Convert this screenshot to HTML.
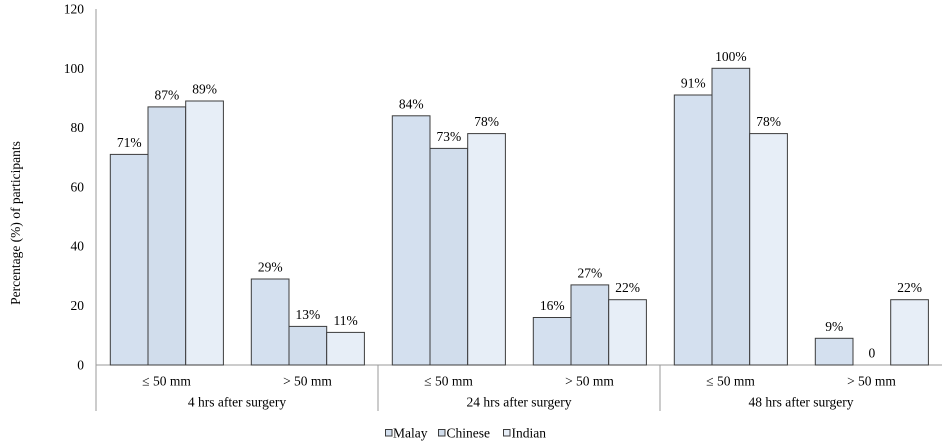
<!DOCTYPE html>
<html><head><meta charset="utf-8"><style>
html,body{margin:0;padding:0;background:#fff;}
svg{display:block;font-family:"Liberation Serif","Times New Roman",Tinos,"DejaVu Serif",serif;}
svg text{font-family:"Liberation Serif","Times New Roman",Tinos,"DejaVu Serif",serif;font-size:13.5px;fill:#000;}
.m{fill:#d4e0ef;stroke:#3c3c3c;stroke-width:1;}
.c{fill:#d1ddec;stroke:#3c3c3c;stroke-width:1;}
.i{fill:#e7eef7;stroke:#3c3c3c;stroke-width:1;}
</style></head><body>
<svg width="942" height="441" viewBox="0 0 942 441" xmlns="http://www.w3.org/2000/svg" font-family="Liberation Serif, Times New Roman, serif" font-size="13.5">
<!-- axes -->
<line x1="96" y1="9" x2="96" y2="411" stroke="#9a9a9a" stroke-width="1"/>
<line x1="96" y1="365" x2="942" y2="365" stroke="#9a9a9a" stroke-width="1"/>
<line x1="378" y1="365" x2="378" y2="411" stroke="#9a9a9a" stroke-width="1"/>
<line x1="660" y1="365" x2="660" y2="411" stroke="#9a9a9a" stroke-width="1"/>

<g font-family="Liberation Serif, Times New Roman, serif">
<!-- y ticks -->
<g text-anchor="end">
<text x="84" y="369.5">0</text>
<text x="84" y="310">20</text>
<text x="84" y="250.7">40</text>
<text x="84" y="191.3">60</text>
<text x="84" y="132">80</text>
<text x="84" y="72.8">100</text>
<text x="84" y="13.5">120</text>
</g>
<text transform="translate(20,223) rotate(-90)" text-anchor="middle">Percentage (%) of participants</text>
</g>

<!-- bars -->
<rect class="m" x="110.3" y="154.4" width="37.7" height="210.6"/>
<rect class="c" x="148" y="106.9" width="37.7" height="258.1"/>
<rect class="i" x="185.7" y="101" width="37.7" height="264"/>

<rect class="m" x="251.3" y="279" width="37.7" height="86"/>
<rect class="c" x="289" y="326.4" width="37.7" height="38.6"/>
<rect class="i" x="326.7" y="332.4" width="37.7" height="32.6"/>

<rect class="m" x="392.3" y="115.8" width="37.7" height="249.2"/>
<rect class="c" x="430" y="148.4" width="37.7" height="216.6"/>
<rect class="i" x="467.7" y="133.6" width="37.7" height="231.4"/>

<rect class="m" x="533.3" y="317.5" width="37.7" height="47.5"/>
<rect class="c" x="571" y="284.9" width="37.7" height="80.1"/>
<rect class="i" x="608.7" y="299.7" width="37.7" height="65.3"/>

<rect class="m" x="674.3" y="95" width="37.7" height="270"/>
<rect class="c" x="712" y="68.3" width="37.7" height="296.7"/>
<rect class="i" x="749.7" y="133.6" width="37.7" height="231.4"/>

<rect class="m" x="815.3" y="338.3" width="37.7" height="26.7"/>
<rect class="i" x="890.7" y="299.7" width="37.7" height="65.3"/>

<!-- value labels -->
<g text-anchor="middle" font-family="Liberation Serif, Times New Roman, serif">
<text x="129.2" y="147">71%</text>
<text x="166.9" y="99.4">87%</text>
<text x="204.6" y="93.5">89%</text>
<text x="270.2" y="271.5">29%</text>
<text x="307.9" y="318.9">13%</text>
<text x="345.6" y="324.9">11%</text>
<text x="411.2" y="108.3">84%</text>
<text x="448.9" y="140.9">73%</text>
<text x="486.6" y="126.1">78%</text>
<text x="552.2" y="310">16%</text>
<text x="589.9" y="277.4">27%</text>
<text x="627.6" y="292.2">22%</text>
<text x="693.2" y="87.5">91%</text>
<text x="730.9" y="60.8">100%</text>
<text x="768.6" y="126.1">78%</text>
<text x="834.2" y="330.8">9%</text>
<text x="871.9" y="357.5">0</text>
<text x="909.6" y="292.2">22%</text>
</g>

<!-- category labels -->
<g text-anchor="middle" font-family="Liberation Serif, Times New Roman, serif">
<text x="166.5" y="385.5">≤ 50 mm</text>
<text x="307.5" y="385.5">&gt; 50 mm</text>
<text x="448.5" y="385.5">≤ 50 mm</text>
<text x="589.5" y="385.5">&gt; 50 mm</text>
<text x="730.5" y="385.5">≤ 50 mm</text>
<text x="871.5" y="385.5">&gt; 50 mm</text>
<text x="237" y="406.5">4 hrs after surgery</text>
<text x="519" y="406.5">24 hrs after surgery</text>
<text x="801" y="406.5">48 hrs after surgery</text>
</g>

<!-- legend -->
<g font-family="Liberation Serif, Times New Roman, serif">
<rect x="385.5" y="429.5" width="6.5" height="6.5" fill="#d4e0ef" stroke="#3c3c3c" stroke-width="1"/>
<text x="393" y="437.5">Malay</text>
<rect x="438.5" y="429.5" width="6.5" height="6.5" fill="#d1ddec" stroke="#3c3c3c" stroke-width="1"/>
<text x="446.5" y="437.5">Chinese</text>
<rect x="503.5" y="429.5" width="6.5" height="6.5" fill="#e7eef7" stroke="#3c3c3c" stroke-width="1"/>
<text x="511.5" y="437.5">Indian</text>
</g>
</svg>
</body></html>
